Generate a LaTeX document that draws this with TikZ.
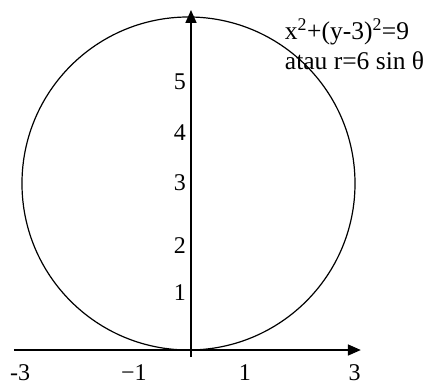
\documentclass[tikz,border=0pt]{standalone}
\usepackage{fontspec}
\setmainfont{Liberation Serif}
\usetikzlibrary{arrows.meta}
\tikzset{
  axislbl/.style={font=\fontsize{24}{28}\selectfont,inner sep=0pt},
  eqnlbl/.style={font=\fontsize{25.5}{30}\selectfont,inner sep=0pt,anchor=base west},
  axisline/.style={line width=1.6pt,-{Triangle[length=13pt,width=11pt]}}
}
\begin{document}
\begin{tikzpicture}[x=55.5pt,y=55.5pt]
\useasboundingbox (-3.441,-0.649) rectangle (4.270,6.306);
% circle x^2+(y-3)^2=9
\draw[line width=1.2pt] (-0.045,3) circle (3);
% axes
\coordinate (xl) at (-3.19,0);
\coordinate (xr) at (3.06,0);
\coordinate (yb) at (0,-0.126);
\coordinate (yt) at (0,6.126);
\draw[axisline] (xl) -- (xr);
\draw[axisline] (yb) -- (yt);
% tick labels
\node[axislbl] (xm3) at (-3.08,-0.40) {-3};
\node[axislbl] (xm1) at (-1.03,-0.40) {−1};
\node[axislbl] (xp1) at (0.97,-0.40) {1};
\node[axislbl] (xp3) at (2.95,-0.40) {3};
\node[axislbl] (y1) at (-0.20,1.03) {1};
\node[axislbl] (y2) at (-0.20,1.89) {2};
\node[axislbl] (y3) at (-0.20,3.02) {3};
\node[axislbl] (y4) at (-0.20,3.91) {4};
\node[axislbl] (y5) at (-0.20,4.83) {5};
% equation
\node[eqnlbl] (cart) at (1.69,5.60) {x\textsuperscript{2}+(y-3)\textsuperscript{2}=9};
\node[eqnlbl] (polar) at (1.69,5.06) {atau r=6 sin θ};
\end{tikzpicture}
\end{document}
